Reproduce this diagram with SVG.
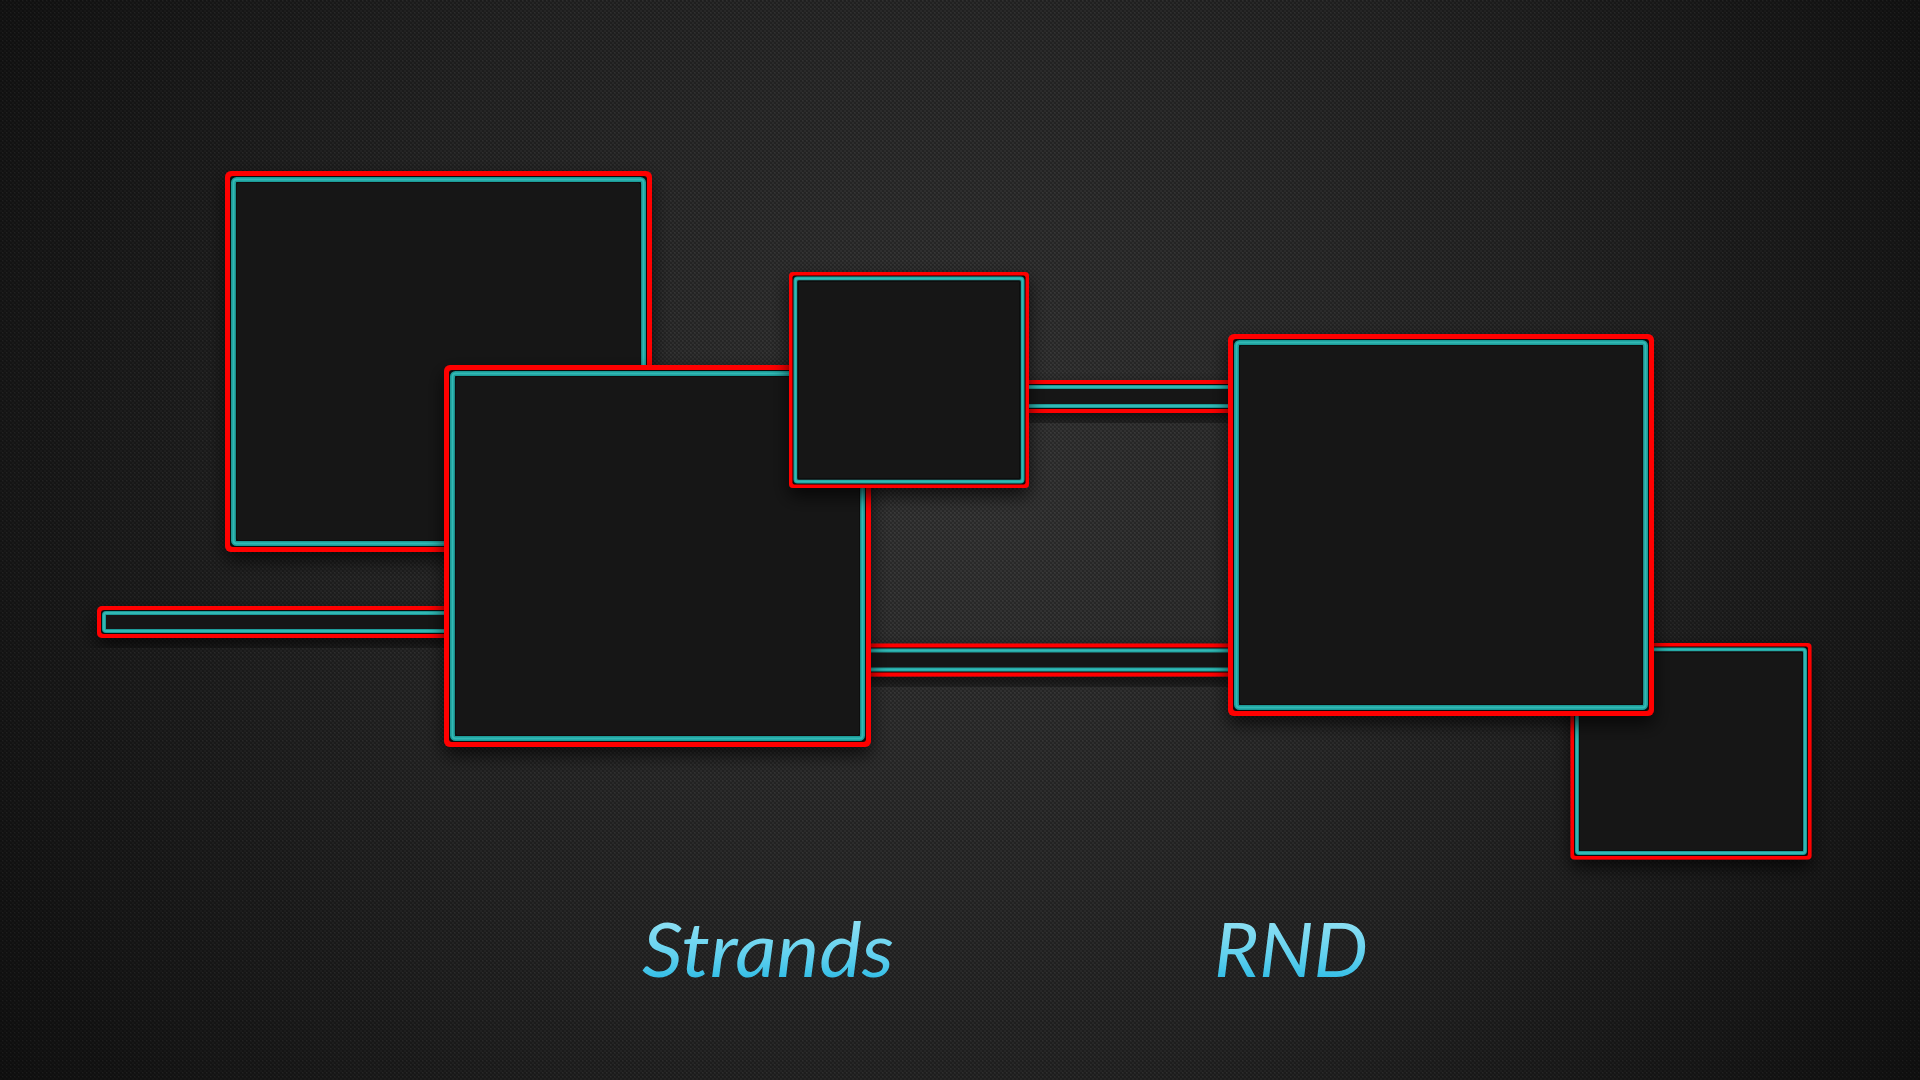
<svg xmlns="http://www.w3.org/2000/svg" width="1920" height="1080" viewBox="0 0 1920 1080">
  <defs>
    <radialGradient id="bgGrad" cx="960" cy="470" r="1150" gradientUnits="userSpaceOnUse">
      <stop offset="0" stop-color="#363636"/>
      <stop offset="0.55" stop-color="#252525"/>
      <stop offset="1" stop-color="#111111"/>
    </radialGradient>
    <pattern id="carbon" width="4" height="4" patternUnits="userSpaceOnUse">
      <rect x="0" y="0" width="2" height="2" fill="#000" fill-opacity="0.22"/>
      <rect x="2" y="2" width="2" height="2" fill="#000" fill-opacity="0.22"/>
      <rect x="2" y="0" width="1" height="1" fill="#fff" fill-opacity="0.04"/>
    </pattern>
    <linearGradient id="txtGrad" x1="0" y1="0" x2="0" y2="1">
      <stop offset="0" stop-color="#a6e8f6"/>
      <stop offset="0.6" stop-color="#5fd0ee"/>
      <stop offset="1" stop-color="#16b2e2"/>
    </linearGradient>
    <filter id="shadow" x="-20%" y="-20%" width="140%" height="150%">
      <feDropShadow dx="0" dy="8" stdDeviation="9" flood-color="#000" flood-opacity="0.7"/>
    </filter>
  </defs>
  <style>
    .red { fill: #ff0000; }
    .gap { fill: #0b0b0b; }
    .teal { fill: #161616; stroke: #1f9b98; stroke-width: 5; }
    .tealS { fill: #161616; stroke: #1f9b98; stroke-width: 4; }
    .hl { fill: none; stroke: #33b9b5; stroke-width: 1.8; }
    .inner { fill: none; stroke: #0a0a0a; stroke-width: 1.2; }
    .lbl { font-family: Lato, "Liberation Sans", sans-serif; font-weight: 400; font-style: italic; font-size: 76px; fill: url(#txtGrad); }
  </style>

  <rect x="0" y="0" width="1920" height="1080" fill="url(#bgGrad)"/>
  <rect x="0" y="0" width="1920" height="1080" fill="url(#carbon)"/>

  <g id="connectors">
    <g id="bar1" filter="url(#shadow)">
      <rect class="red" x="97" y="606" width="360" height="32" rx="5"/>
      <rect class="gap" x="101" y="610" width="352" height="24" rx="3"/>
      <rect class="tealS" x="104" y="613" width="346" height="18" rx="2"/>
      <rect class="hl" x="104" y="613" width="346" height="18" rx="2"/>
    </g>
    <g id="bar2" filter="url(#shadow)">
      <rect class="red" x="860" y="643.5" width="380" height="33" rx="4"/>
      <rect class="gap" x="864" y="647.5" width="372" height="25" rx="3"/>
      <rect class="tealS" x="867" y="650.5" width="366" height="19" rx="2"/>
      <rect class="hl" x="867" y="650.5" width="366" height="19" rx="2"/>
    </g>
    <g id="bar3" filter="url(#shadow)">
      <rect class="red" x="1020" y="380" width="220" height="33" rx="4"/>
      <rect class="gap" x="1024" y="384" width="212" height="25" rx="3"/>
      <rect class="tealS" x="1027" y="387" width="206" height="19" rx="2"/>
      <rect class="hl" x="1027" y="387" width="206" height="19" rx="2"/>
    </g>
  </g>

  <g id="nodeA" filter="url(#shadow)">
    <rect class="red" x="225" y="171" width="427" height="381" rx="6"/>
    <rect class="gap" x="230" y="176" width="417" height="371" rx="3"/>
    <rect class="teal" x="233.5" y="179.5" width="410" height="364" rx="3"/>
    <rect class="hl" x="233.5" y="179.5" width="410" height="364" rx="3"/>
    <rect class="inner" x="236.5" y="182.5" width="404" height="358" rx="2"/>
  </g>

  <g id="nodeB" filter="url(#shadow)">
    <rect class="red" x="444" y="365" width="427" height="382" rx="6"/>
    <rect class="gap" x="449" y="370" width="417" height="372" rx="3"/>
    <rect class="teal" x="452.5" y="373.5" width="410" height="365" rx="3"/>
    <rect class="hl" x="452.5" y="373.5" width="410" height="365" rx="3"/>
    <rect class="inner" x="455.5" y="376.5" width="404" height="359" rx="2"/>
  </g>

  <g id="nodeC" filter="url(#shadow)">
    <rect class="red" x="789" y="272" width="240" height="216" rx="4"/>
    <rect class="gap" x="792.5" y="275.5" width="233" height="209" rx="2"/>
    <rect class="tealS" x="795.5" y="278.5" width="227" height="203" rx="2"/>
    <rect class="hl" x="795.5" y="278.5" width="227" height="203" rx="2"/>
    <rect class="inner" x="798" y="281" width="222" height="198" rx="1"/>
  </g>

  <g id="nodeE" filter="url(#shadow)">
    <rect class="red" x="1570.5" y="643" width="241" height="216.5" rx="4"/>
    <rect class="gap" x="1574" y="646.5" width="234" height="209.5" rx="2"/>
    <rect class="tealS" x="1577" y="649.5" width="228" height="203.5" rx="2"/>
    <rect class="hl" x="1577" y="649.5" width="228" height="203.5" rx="2"/>
    <rect class="inner" x="1579.5" y="652" width="223" height="198.5" rx="1"/>
  </g>

  <g id="nodeD" filter="url(#shadow)">
    <rect class="red" x="1228" y="334" width="426" height="382" rx="6"/>
    <rect class="gap" x="1233" y="339" width="416" height="372" rx="3"/>
    <rect class="teal" x="1236.5" y="342.5" width="409" height="365" rx="3"/>
    <rect class="hl" x="1236.5" y="342.5" width="409" height="365" rx="3"/>
    <rect class="inner" x="1239.5" y="345.5" width="403" height="359" rx="2"/>
  </g>

  <g id="labels">
    <text class="lbl" x="642" y="977" textLength="252" lengthAdjust="spacingAndGlyphs">Strands</text>
    <text class="lbl" x="1214" y="977" textLength="154" lengthAdjust="spacingAndGlyphs">RND</text>
  </g>
</svg>
